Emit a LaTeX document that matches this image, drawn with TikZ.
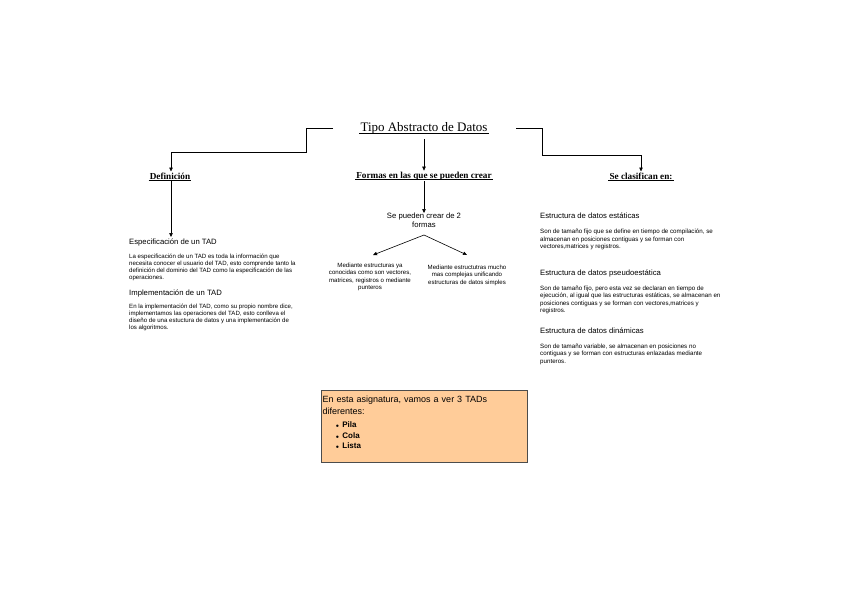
\documentclass[tikz,border=0pt]{standalone}
\usepackage{fontspec}
\setmainfont{Liberation Serif}
\setsansfont{Liberation Sans}
\usetikzlibrary{arrows.meta}
\begin{document}
\begin{tikzpicture}[x=1pt,y=-1pt,
  conn/.style={draw=black,line width=0.6pt},
  arr/.style={conn,-{Triangle[length=4pt,width=3.5pt]}},
  uline/.style={draw=black,line width=0.7pt},
  ttl/.style={font=\fontsize{13}{15}\selectfont,inner sep=1pt},
  hdr/.style={font=\fontsize{9.2}{11}\selectfont\bfseries,inner sep=1pt},
  sub/.style={font=\sffamily\fontsize{7.7}{9}\selectfont,inner sep=0pt,anchor=west},
  para/.style={font=\sffamily\fontsize{6.1}{7}\selectfont,inner sep=0pt,anchor=north west,align=left},
  rpara/.style={font=\sffamily\fontsize{6.2}{7.3}\selectfont,inner sep=0pt,anchor=north west,align=left},
  cpara/.style={font=\sffamily\fontsize{6.1}{7.3}\selectfont,inner sep=0pt,anchor=north,align=center},
  note/.style={draw=black!70,line width=1pt,fill=orange!40!white}
]
\useasboundingbox[fill=white] (0,0) rectangle (848,600);
% title
\node[ttl] (title) at (424,128.5) {Tipo Abstracto de Datos};
\draw[uline] ([yshift=-1.5pt]title.base west) -- ([yshift=-1.5pt]title.base east);
\coordinate (tl) at (333,128);
\coordinate (tr) at (516,128);
\coordinate (tb) at (424,139);
% headers
\node[hdr] (def) at (170,176) {Definición};
\node[hdr] (form) at (424,176) {Formas en las que se pueden crear};
\node[hdr] (clas) at (641,176) {Se clasifican en:};
\foreach \n in {def,form,clas}
  \draw[uline,line width=0.6pt] ([yshift=-1.2pt]\n.base west) -- ([yshift=-1.2pt]\n.base east);
\draw[arr] (tl) -- (306,128) -- (306,152) -- (171,152) -- (def.north -| 171,0);
\draw[arr] (tb) -- (form.north);
\draw[arr] (tr) -- (542,128) -- (542,155) -- (641,155) -- (clas.north);
% left column
\node[sub] (esp) at (129,242.5) {Especificación de un TAD};
\draw[arr] (def.south -| 171,0) -- (171,237);
\node[para] (espp) at (129,254) {La especificación de un TAD es toda la información que\\necesita conocer el usuario del TAD, esto comprende tanto la\\definición del dominio del TAD como la especificación de las\\operaciones.};
\node[sub] (imp) at (129,293) {Implementación de un TAD};
\node[para] (impp) at (129,304) {En la implementación del TAD, como su propio nombre dice,\\implementamos las operaciones del TAD, esto conlleva el\\diseño de una estuctura de datos y una implementación de\\los algoritmos.};
% middle column
\node[font=\sffamily\fontsize{7.7}{8.5}\selectfont,align=center,inner sep=0pt,anchor=north] (dos) at (424,213) {Se pueden crear de 2\\formas};
\draw[arr] (form.south) -- (dos.north);
\coordinate (split) at (424,235);
\node[cpara] (m1) at (370,263) {Mediante estructuras ya\\conocidas como son vectores,\\matrices, registros o mediante\\punteros};
\node[cpara] (m2) at (467,265) {Mediante estructutras mucho\\mas complejas unificando\\estructuras de datos simples};
\draw[arr] (split) -- (373,255);
\draw[arr] (split) -- (467,255);
% right column
\node[sub] (est) at (540,216) {Estructura de datos estáticas};
\node[rpara] (estp) at (540,229) {Son de tamaño fijo que se define en tiempo de compilación, se\\almacenan en posiciones contiguas y se forman con\\vectores,matrices y registros.};
\node[sub] (pse) at (540,273) {Estructura de datos pseudoestática};
\node[rpara] (psep) at (540,286) {Son de tamaño fijo, pero esta vez se declaran en tiempo de\\ejecución, al igual que las estructuras estáticas, se almacenan en\\posiciones contiguas y se forman con vectores,matrices y\\registros.};
\node[sub] (din) at (540,331) {Estructura de datos dinámicas};
\node[rpara] (dinp) at (540,344) {Son de tamaño variable, se almacenan en posiciones no\\contiguas y se forman con estructuras enlazadas mediante\\punteros.};
% note box
\node[note,minimum width=206pt,minimum height=72pt,anchor=north west] (box) at (321,390) {};
\node[font=\sffamily\fontsize{9}{12}\selectfont,anchor=north west,align=left,inner sep=0pt,text width=200pt] (boxt) at (322.5,395.5) {En esta asignatura, vamos a ver 3 TADs\\diferentes:};
\node[font=\sffamily\bfseries\fontsize{8}{10.5}\selectfont,anchor=north west,align=left,inner sep=0pt] (list) at (335.5,421.5) {{\tiny$\bullet$}\hspace{3pt}Pila\\{\tiny$\bullet$}\hspace{3pt}Cola\\{\tiny$\bullet$}\hspace{3pt}Lista};
\end{tikzpicture}
\end{document}
